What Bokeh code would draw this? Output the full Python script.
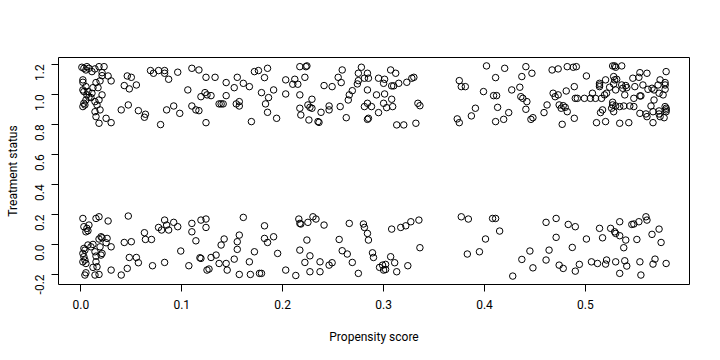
import math
from bokeh.plotting import figure
from bokeh.models import Range1d, FixedTicker
from bokeh.embed import file_html
from bokeh.resources import INLINE

# Treated units: (propensity score, jittered treatment status)
treated = [
    (0.001,1.18),(0.003,1.173),(0.006,1.184),(0.005,1.162),(0.008,1.173),(0.011,1.151),(0.014,1.169),(0.018,1.184),
    (0.023,1.184),(0.021,1.144),(0.021,1.124),(0.027,1.122),(0.030,1.089),(0.002,1.096),(0.002,1.08),(0.015,1.078),
    (0.019,1.089),(0.005,1.051),(0.002,1.029),(0.003,1.018),(0.012,1.044),(0.017,1.044),(0.006,0.996),(0.008,0.98),
    (0.010,0.978),(0.011,1.007),(0.021,0.996),(0.005,0.962),(0.003,0.94),(0.004,0.929),(0.002,0.918),(0.014,0.951),
    (0.018,0.962),(0.016,0.929),(0.019,0.896),(0.014,0.884),(0.015,0.851),(0.018,0.807),(0.025,0.84),(0.030,0.811),
    (0.007,1.018),(0.046,1.122),(0.050,1.113),(0.043,1.058),(0.048,1.036),(0.055,1.062),(0.047,0.929),(0.040,0.896),
    (0.057,0.891),(0.064,0.867),(0.063,0.847),(0.079,0.798),(0.069,1.158),(0.072,1.14),(0.077,1.158),(0.083,1.158),
    (0.083,1.14),(0.087,1.10),(0.096,1.147),(0.110,1.173),(0.117,1.162),(0.124,1.113),(0.133,1.113),(0.144,1.078),
    (0.106,1.029),(0.119,0.984),(0.123,1.011),(0.125,0.996),(0.129,0.991),(0.144,0.991),(0.137,0.936),(0.139,0.936),
    (0.141,0.936),(0.085,0.896),(0.092,0.922),(0.098,0.873),(0.110,0.922),(0.114,0.896),(0.117,0.891),(0.124,0.811),
    (0.155,1.113),(0.152,1.044),(0.161,1.073),(0.167,1.051),(0.154,0.936),(0.157,0.951),(0.157,0.922),(0.172,1.151),
    (0.176,1.158),(0.185,1.173),(0.182,1.111),(0.179,1.011),(0.186,0.978),(0.191,1.029),(0.183,0.936),(0.185,0.88),
    (0.194,0.84),(0.169,0.818),(0.203,1.096),(0.203,1.002),(0.212,1.10),(0.210,1.067),(0.215,1.067),(0.217,1.184),
    (0.223,1.184),(0.224,1.189),(0.222,1.113),(0.217,0.996),(0.229,0.967),(0.225,0.929),(0.227,0.913),(0.229,0.907),
    (0.217,0.907),(0.218,0.862),(0.226,0.829),(0.235,0.818),(0.236,0.813),(0.238,0.88),(0.246,0.922),(0.246,0.896),
    (0.241,1.058),(0.249,1.051),(0.255,1.113),(0.259,1.162),(0.258,1.078),(0.257,0.918),(0.263,0.844),(0.265,0.962),
    (0.266,0.996),(0.269,1.024),(0.274,1.069),(0.275,1.091),(0.278,1.18),(0.275,1.14),(0.281,1.107),(0.285,1.107),
    (0.284,1.14),(0.284,1.029),(0.293,0.996),(0.295,1.107),(0.300,1.073),(0.281,0.918),(0.284,0.94),(0.288,0.918),
    (0.295,0.878),(0.284,0.833),(0.285,0.84),(0.300,0.94),
    (0.301,1.10),(0.307,1.162),(0.312,1.14),(0.308,1.056),(0.310,1.056),(0.315,1.073),(0.323,1.08),(0.328,1.107),
    (0.330,1.113),(0.301,1.002),(0.308,0.967),(0.303,0.911),(0.309,0.918),(0.334,0.94),(0.336,0.924),(0.313,0.796),
    (0.320,0.796),(0.332,0.807),(0.375,1.091),(0.377,1.051),(0.381,1.051),(0.402,1.189),(0.420,1.173),(0.411,1.111),
    (0.441,1.184),(0.447,1.14),(0.437,1.118),(0.399,1.018),(0.409,0.991),(0.412,0.991),(0.435,1.047),(0.427,1.029),
    (0.436,0.984),(0.438,0.973),(0.442,0.951),(0.413,0.913),(0.424,0.878),(0.419,0.833),(0.411,0.818),(0.441,0.90),
    (0.446,0.833),(0.448,0.844),(0.391,0.907),(0.387,0.856),(0.373,0.836),(0.375,0.811),
    (0.467,1.162),(0.473,1.169),(0.482,1.184),(0.488,1.18),(0.491,1.184),(0.501,1.122),(0.527,1.189),(0.529,1.189),
    (0.530,1.18),(0.536,1.189),(0.580,1.151),(0.561,1.14),(0.554,1.144),(0.553,1.113),(0.547,1.107),(0.574,1.096),
    (0.572,1.062),(0.579,1.078),(0.579,1.033),(0.566,1.04),(0.568,1.029),(0.557,1.062),(0.549,1.051),(0.540,1.058),
    (0.541,1.044),(0.536,1.062),(0.531,1.10),(0.528,1.118),(0.520,1.096),(0.514,1.073),(0.514,1.062),(0.514,1.051),
    (0.529,1.096),(0.528,1.069),(0.524,1.047),(0.521,1.007),(0.530,1.029),(0.537,1.04),(0.489,1.051),(0.481,1.022),
    (0.473,0.996),(0.468,1.007),(0.470,0.984),(0.462,0.929),(0.474,0.929),(0.478,0.924),(0.480,0.913),(0.476,0.907),
    (0.459,0.878),(0.482,0.884),(0.490,0.973),(0.492,0.973),(0.499,0.973),(0.505,0.973),(0.510,0.973),(0.516,0.973),
    (0.507,1.007),(0.519,0.996),(0.527,0.947),(0.527,0.929),(0.526,0.907),(0.528,0.884),(0.539,0.996),(0.548,0.973),
    (0.554,0.989),(0.555,0.989),(0.562,1.033),(0.568,0.962),(0.573,1.007),(0.577,0.996),(0.579,1.062),(0.565,0.922),
    (0.538,0.922),(0.544,0.922),(0.548,0.918),(0.554,0.873),(0.560,0.869),(0.561,0.851),(0.567,0.884),(0.573,0.889),
    (0.573,0.869),(0.579,0.918),(0.580,0.907),(0.580,0.896),(0.580,0.884),(0.574,0.851),(0.578,0.844),(0.567,0.811),
    (0.530,0.922),(0.534,0.918),(0.517,0.896),(0.515,0.878),(0.511,0.811),(0.520,0.818),(0.534,0.807),(0.543,0.811),
    (0.489,0.84),(0.477,0.80),
]

# Control units: (propensity score, jittered treatment status)
control = [
    (0.002,0.173),(0.015,0.173),(0.018,0.184),(0.027,0.156),(0.047,0.189),(0.003,0.118),(0.006,0.107),(0.007,0.091),
    (0.005,0.084),(0.008,0.129),(0.020,0.051),(0.021,0.044),(0.018,0.036),(0.026,0.04),(0.025,0.011),(0.012,0.0),
    (0.010,-0.016),(0.007,-0.004),(0.003,-0.027),(0.004,-0.038),(0.002,-0.06),(0.003,-0.082),(0.004,-0.104),(0.002,-0.116),
    (0.005,-0.127),(0.014,-0.049),(0.015,-0.078),(0.019,-0.016),(0.021,-0.06),(0.020,-0.071),(0.030,-0.016),(0.015,-0.116),
    (0.016,-0.149),(0.012,-0.153),(0.005,-0.189),(0.004,-0.204),(0.014,-0.204),(0.018,-0.2),(0.030,-0.171),(0.040,-0.204),
    (0.046,-0.16),(0.050,0.018),(0.043,0.013),(0.063,0.078),(0.064,0.033),(0.070,0.033),(0.057,-0.122),(0.048,-0.087),
    (0.055,-0.087),(0.071,-0.142),(0.083,-0.12),(0.099,-0.044),(0.107,-0.142),(0.077,0.113),(0.080,0.096),(0.083,0.162),
    (0.085,0.129),(0.087,0.096),(0.092,0.147),(0.096,0.118),(0.110,0.14),(0.110,0.084),(0.114,0.024),(0.119,0.162),
    (0.124,0.169),(0.124,0.113),(0.118,-0.089),(0.119,-0.093),(0.125,-0.171),(0.127,-0.164),(0.129,-0.087),(0.134,-0.071),
    (0.137,-0.127),(0.139,-0.004),(0.142,0.036),(0.144,-0.127),(0.145,-0.171),
    (0.152,-0.098),(0.155,0.018),(0.157,0.062),(0.155,-0.033),(0.161,0.18),(0.157,-0.2),(0.167,-0.116),(0.168,-0.2),
    (0.172,-0.049),(0.177,-0.193),(0.179,-0.193),(0.182,0.124),(0.182,0.04),(0.185,0.013),(0.191,0.051),(0.195,-0.06),
    (0.203,-0.171),(0.213,-0.207),(0.217,-0.038),(0.216,0.169),(0.217,0.14),(0.218,0.136),(0.225,0.147),(0.224,0.029),
    (0.227,-0.076),(0.222,-0.12),(0.227,-0.182),(0.230,0.184),(0.233,0.169),(0.237,-0.182),(0.237,-0.116),(0.241,0.129),
    (0.246,-0.138),(0.249,-0.122),(0.256,0.033),(0.259,-0.042),(0.264,-0.064),(0.269,-0.12),(0.266,0.14),(0.275,-0.193),
    (0.280,0.136),(0.281,0.113),(0.284,0.073),(0.285,0.029),(0.289,-0.056),(0.290,-0.087),(0.296,-0.153),(0.299,-0.138),
    (0.300,-0.171),
    (0.302,-0.133),(0.302,-0.167),(0.307,-0.082),(0.311,-0.122),(0.313,-0.182),(0.324,-0.142),(0.308,0.102),(0.317,0.113),
    (0.322,0.124),(0.327,0.151),(0.335,0.162),(0.336,-0.022),(0.377,0.184),(0.384,0.169),(0.408,0.173),(0.411,0.173),
    (0.415,0.089),(0.401,0.036),(0.395,-0.049),(0.383,-0.064),(0.428,-0.211),(0.437,-0.1),(0.445,-0.044),(0.448,-0.156),
    (0.461,0.147),(0.471,0.173),(0.483,0.133),(0.490,0.118),(0.471,0.047),(0.464,-0.038),(0.461,-0.104),(0.474,-0.138),
    (0.478,-0.16),(0.487,-0.02),(0.490,-0.178),(0.494,-0.133),(0.501,0.036),(0.506,-0.116),(0.512,-0.127),(0.520,-0.131),
    (0.521,-0.104),(0.514,0.107),(0.517,0.044),(0.525,0.107),(0.529,0.084),(0.530,0.073),(0.534,0.058),(0.534,0.151),
    (0.540,0.029),(0.538,-0.022),(0.530,-0.116),(0.539,-0.109),(0.541,-0.144),(0.534,-0.193),(0.546,0.133),(0.548,0.136),
    (0.553,0.151),(0.560,0.184),(0.561,0.162),(0.551,0.033),(0.554,-0.116),(0.555,-0.204),(0.566,0.067),(0.573,0.102),
    (0.575,0.013),(0.567,-0.131),(0.569,-0.098),(0.580,-0.127),
]

x_ticks = [0.0, 0.1, 0.2, 0.3, 0.4, 0.5]
y_ticks = [-0.2, 0.0, 0.2, 0.4, 0.6, 0.8, 1.0, 1.2]
x_title = "Propensity score"
y_title = "Treatment status"

all_x = [v[0] for v in treated + control]
all_y = [v[1] for v in treated + control]
xpad = 0.04 * (max(all_x) - min(all_x))
ypad = 0.04 * (max(all_y) - min(all_y))

p = figure(width=704, height=346, output_backend="svg", toolbar_location=None,
           x_range=Range1d(min(all_x) - xpad, max(all_x) + xpad),
           y_range=Range1d(min(all_y) - ypad, max(all_y) + ypad),
           min_border_left=58, min_border_right=15, min_border_top=57, min_border_bottom=62)

p.grid.visible = False
p.outline_line_color = "black"
p.outline_line_width = 1
p.background_fill_color = "white"
p.border_fill_color = "white"

FONT = "Roboto"
for ax in (p.xaxis[0], p.yaxis[0]):
    ax.axis_line_color = None
    ax.major_tick_in = 0
    ax.major_tick_out = 7
    ax.major_tick_line_color = "black"
    ax.minor_tick_line_color = None
    ax.major_label_text_font = FONT
    ax.major_label_text_font_size = "12px"
    ax.major_label_text_color = "black"
    ax.axis_label_text_font = FONT
    ax.axis_label_text_font_size = "12px"
    ax.axis_label_text_font_style = "normal"
    ax.axis_label_text_color = "black"

p.xaxis.ticker = FixedTicker(ticks=x_ticks)
p.yaxis.ticker = FixedTicker(ticks=y_ticks)
p.xaxis.major_label_overrides = {t: f"{t:.1f}" for t in x_ticks}
p.yaxis.major_label_overrides = {t: f"{t:.1f}" for t in y_ticks}
p.yaxis.major_label_orientation = math.pi / 2
p.xaxis.axis_label = x_title
p.yaxis.axis_label = y_title
p.xaxis.major_label_standoff = 8
p.xaxis.axis_label_standoff = 18
p.yaxis.major_label_standoff = 12
p.yaxis.axis_label_standoff = 8

tx = [v[0] for v in treated]
ty = [v[1] for v in treated]
cx = [v[0] for v in control]
cy = [v[1] for v in control]
p.scatter(tx, ty, marker="circle", size=6.5, fill_color=None, line_color="black", line_width=1)
p.scatter(cx, cy, marker="circle", size=6.5, fill_color=None, line_color="black", line_width=1)

open("out.html", "w").write(file_html(p, INLINE))
